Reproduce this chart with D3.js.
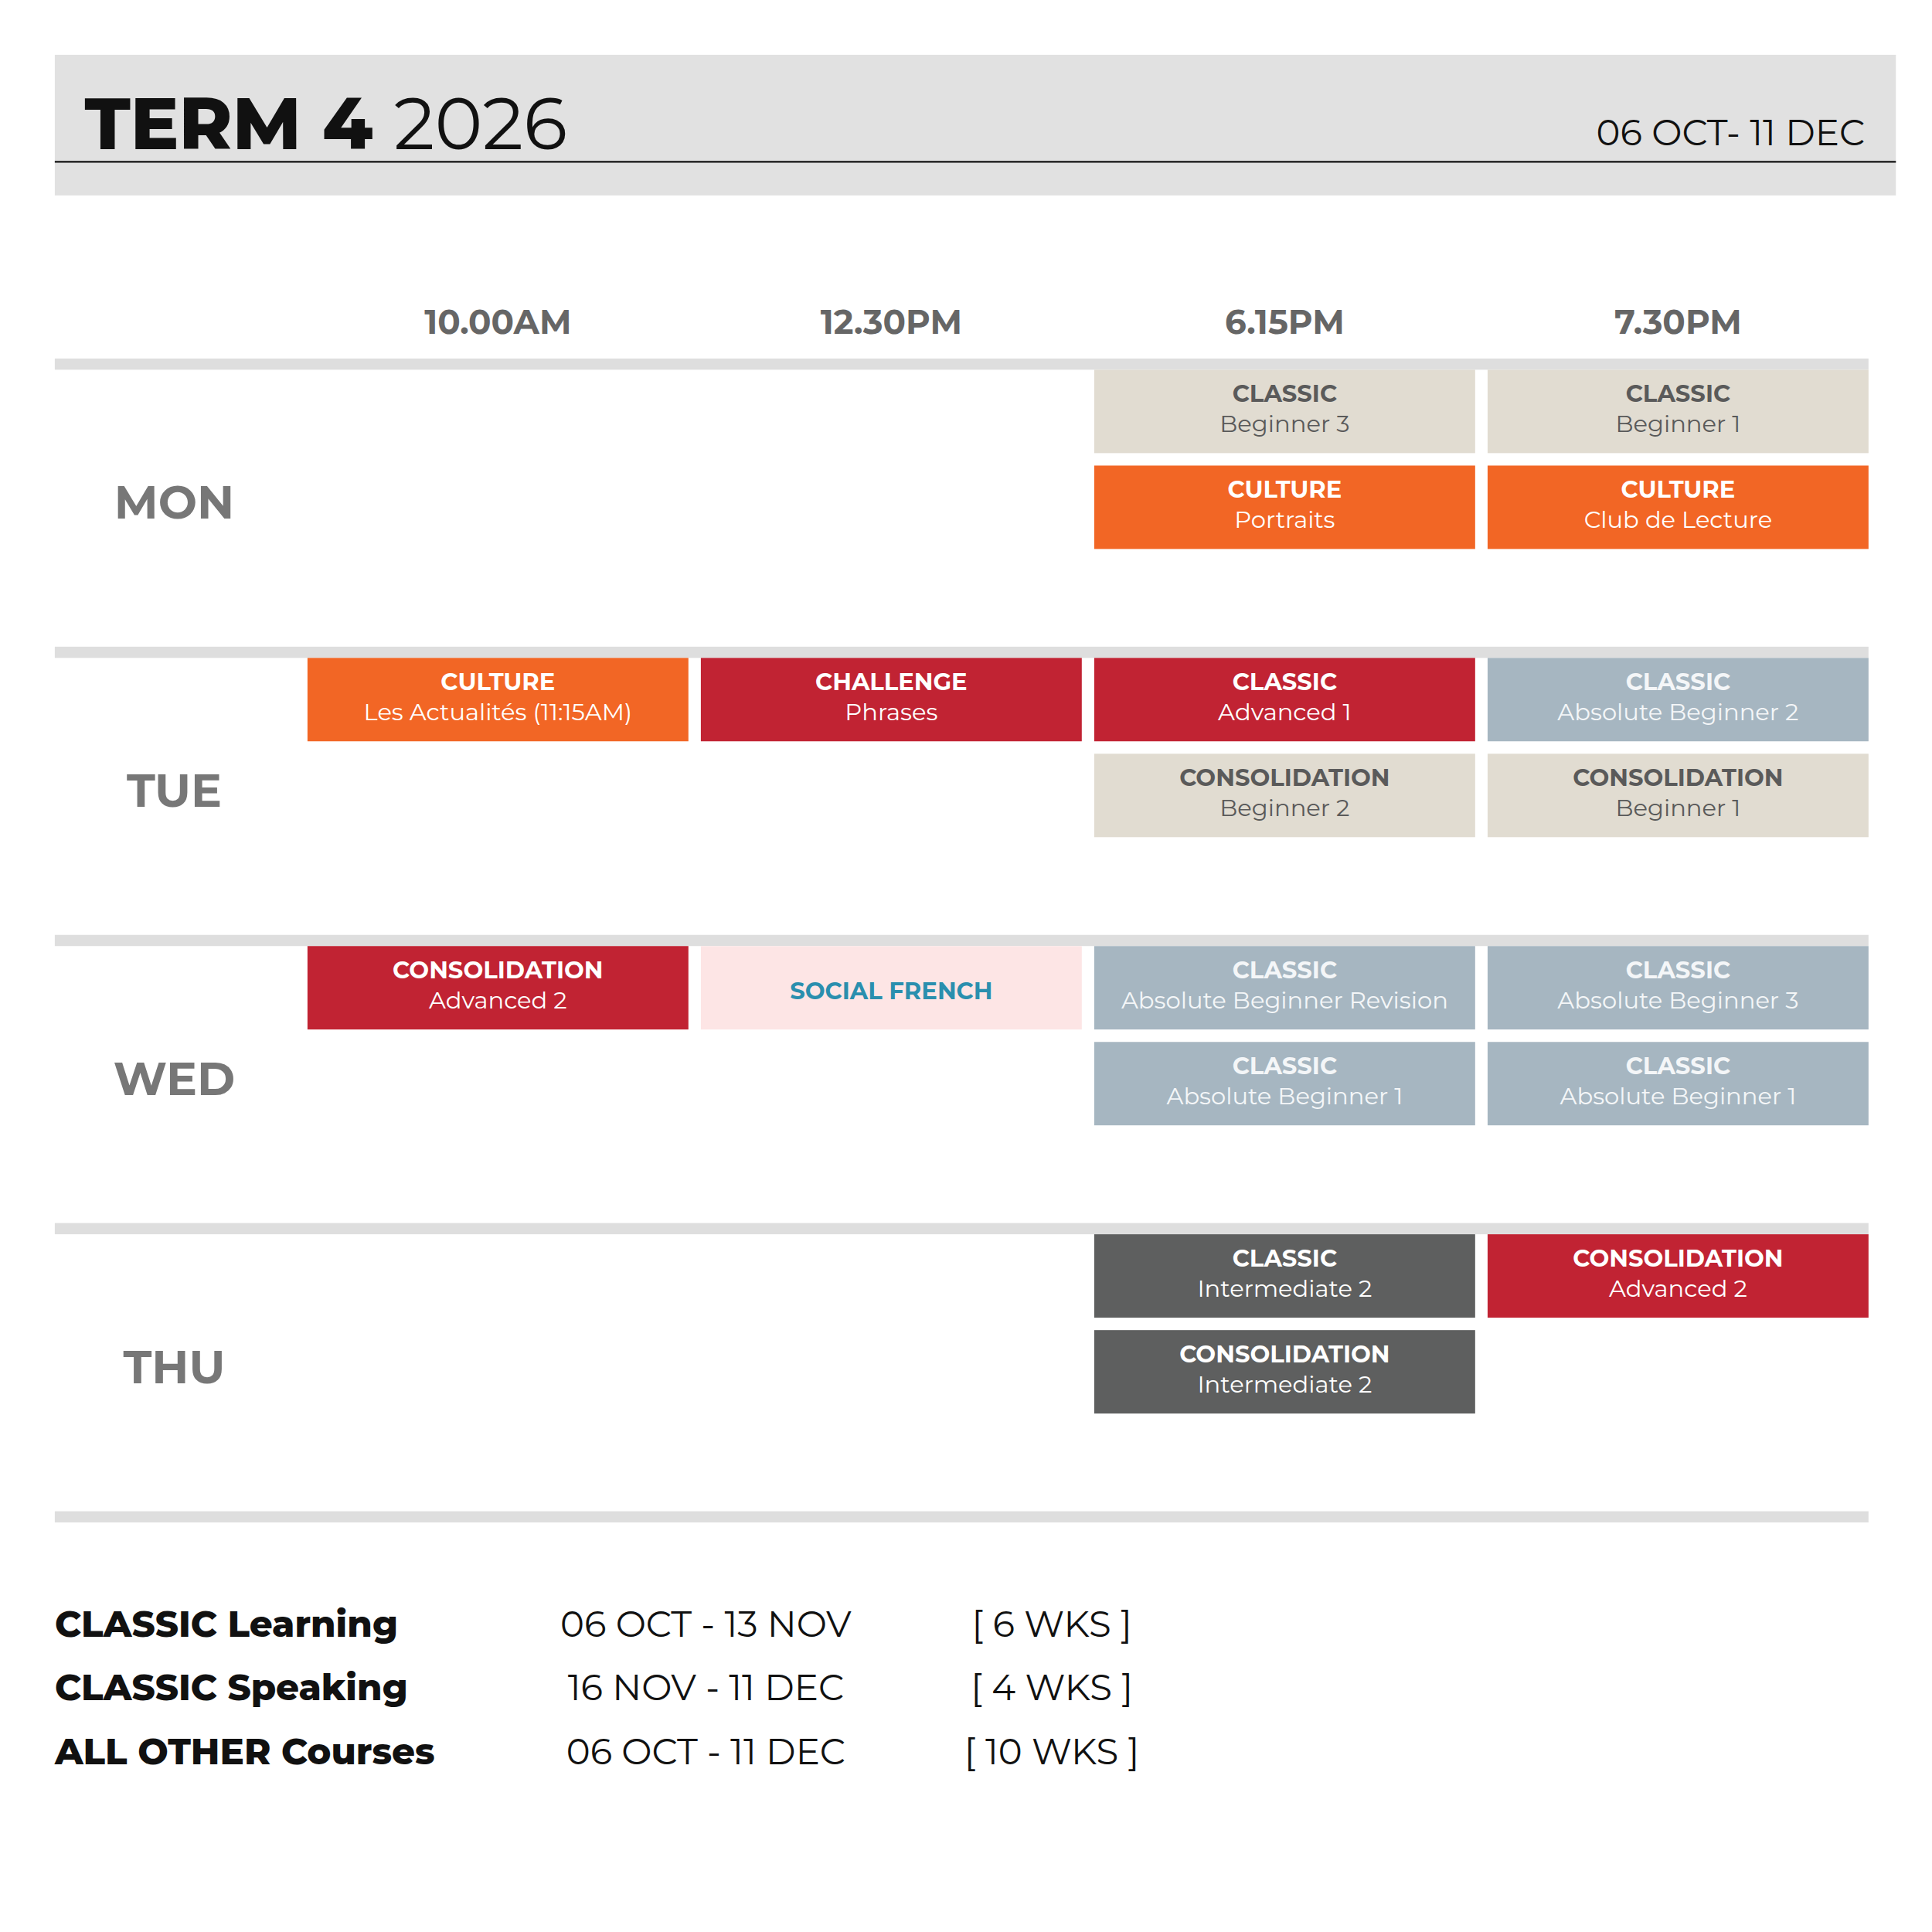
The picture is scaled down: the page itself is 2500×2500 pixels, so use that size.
<!DOCTYPE html>
<html><head><meta charset="utf-8">
<script src="https://cdn.jsdelivr.net/npm/d3@7"></script>
<style>body{margin:0;background:#fff}</style>
</head><body><div id="chart"></div>
<script>
const times = ["10.00AM", "12.30PM", "6.15PM", "7.30PM"];
const days = ["MON", "TUE", "WED", "THU"];
// sessions: [day, time, slot, kind, level, style]
const sessions = [
  ["MON", "6.15PM", 0, "CLASSIC", "Beginner 3", "beige"],
  ["MON", "7.30PM", 0, "CLASSIC", "Beginner 1", "beige"],
  ["MON", "6.15PM", 1, "CULTURE", "Portraits", "orange"],
  ["MON", "7.30PM", 1, "CULTURE", "Club de Lecture", "orange"],
  ["TUE", "10.00AM", 0, "CULTURE", "Les Actualités (11:15AM)", "orange"],
  ["TUE", "12.30PM", 0, "CHALLENGE", "Phrases", "red"],
  ["TUE", "6.15PM", 0, "CLASSIC", "Advanced 1", "red"],
  ["TUE", "7.30PM", 0, "CLASSIC", "Absolute Beginner 2", "blue"],
  ["TUE", "6.15PM", 1, "CONSOLIDATION", "Beginner 2", "beige"],
  ["TUE", "7.30PM", 1, "CONSOLIDATION", "Beginner 1", "beige"],
  ["WED", "10.00AM", 0, "CONSOLIDATION", "Advanced 2", "red"],
  ["WED", "12.30PM", 0, "SOCIAL FRENCH", "", "pink"],
  ["WED", "6.15PM", 0, "CLASSIC", "Absolute Beginner Revision", "blue"],
  ["WED", "7.30PM", 0, "CLASSIC", "Absolute Beginner 3", "blue"],
  ["WED", "6.15PM", 1, "CLASSIC", "Absolute Beginner 1", "blue"],
  ["WED", "7.30PM", 1, "CLASSIC", "Absolute Beginner 1", "blue"],
  ["THU", "6.15PM", 0, "CLASSIC", "Intermediate 2", "dark"],
  ["THU", "7.30PM", 0, "CONSOLIDATION", "Advanced 2", "red"],
  ["THU", "6.15PM", 1, "CONSOLIDATION", "Intermediate 2", "dark"]
];
const footNames = ["CLASSIC Learning", "CLASSIC Speaking", "ALL OTHER Courses"];
const footDates = ["06 OCT - 13 NOV", "16 NOV - 11 DEC", "06 OCT - 11 DEC"];
const footWeeks = ["[ 6 WKS ]", "[ 4 WKS ]", "[ 10 WKS ]"];

const fills = {beige:"#e1dcd1", orange:"#f26625", red:"#c12333", blue:"#a6b6c1", dark:"#5e5f5f", pink:"#fde5e5"};
const inks = {beige:"#5a5a5a", orange:"#fff", red:"#fff", blue:"#f4f6f8", dark:"#fff", pink:"#2a8fae"};
const font = "Montserrat, 'Open Sans', sans-serif";

const svg = d3.select("#chart").append("svg")
  .attr("width", 2500).attr("height", 2500)
  .attr("viewBox", "0 0 1552 1552").style("font-family", font);

// header
svg.append("rect").attr("x", 44).attr("y", 44).attr("width", 1479).attr("height", 113).attr("fill", "#e1e1e1");
svg.append("line").attr("x1", 44).attr("x2", 1523).attr("y1", 130).attr("y2", 130).attr("stroke", "#111").attr("stroke-width", 1.5);
const title = svg.append("text").attr("x", 68).attr("y", 120).attr("font-size", 58).attr("fill", "#111");
title.append("tspan").attr("font-weight", 800).text("TERM 4 ");
title.append("tspan").attr("font-weight", 400).text("2026");
svg.append("text").attr("x", 1498).attr("y", 117).attr("text-anchor", "end").attr("font-size", 29).attr("fill", "#111").text("06 OCT-  11 DEC");

const x = d3.scaleBand().domain(times).range([242, 1506]).paddingInner(10 / 316).paddingOuter(5 / 316);
const y = d3.scaleBand().domain(days).range([288, 1214]);
const slotH = 67, slotGap = 10, sepH = 9;

svg.selectAll(".th").data(times).join("text")
  .attr("x", d => x(d) + x.bandwidth() / 2).attr("y", 268)
  .attr("text-anchor", "middle").attr("font-size", 27).attr("font-weight", 700).attr("fill", "#666").text(d => d);

svg.selectAll(".sep").data(days.concat(["END"])).join("rect")
  .attr("x", 44).attr("width", 1457).attr("height", sepH)
  .attr("y", d => d === "END" ? 1214 : y(d)).attr("fill", "#dedede");

svg.selectAll(".day").data(days).join("text")
  .attr("x", 140).attr("y", d => y(d) + y.bandwidth() / 2 + 13)
  .attr("text-anchor", "middle").attr("font-size", 37).attr("font-weight", 700).attr("fill", "#777").text(d => d);

const cell = svg.selectAll(".cell").data(sessions).join("g")
  .attr("transform", d => `translate(${x(d[1])},${y(d[0]) + sepH + d[2] * (slotH + slotGap)})`);
cell.append("rect").attr("width", x.bandwidth()).attr("height", slotH).attr("fill", d => fills[d[5]]);
cell.append("text").attr("x", x.bandwidth() / 2).attr("y", d => d[4] ? 26 : 43)
  .attr("text-anchor", "middle").attr("font-size", 19).attr("font-weight", 700)
  .attr("fill", d => inks[d[5]]).text(d => d[3]);
cell.append("text").attr("x", x.bandwidth() / 2).attr("y", 50)
  .attr("text-anchor", "middle").attr("font-size", 19).attr("font-weight", 400)
  .attr("fill", d => inks[d[5]]).text(d => d[4]);

const fy = d3.scalePoint().domain(footNames).range([1315, 1417]);
footNames.forEach((n, i) => {
  svg.append("text").attr("x", 44).attr("y", fy(n)).attr("font-size", 29).attr("font-weight", 800).attr("fill", "#111").text(n);
  svg.append("text").attr("x", 567).attr("y", fy(n)).attr("text-anchor", "middle").attr("font-size", 29).attr("fill", "#111").text(footDates[i]);
  svg.append("text").attr("x", 845).attr("y", fy(n)).attr("text-anchor", "middle").attr("font-size", 29).attr("fill", "#111").text(footWeeks[i]);
});
</script></body></html>
